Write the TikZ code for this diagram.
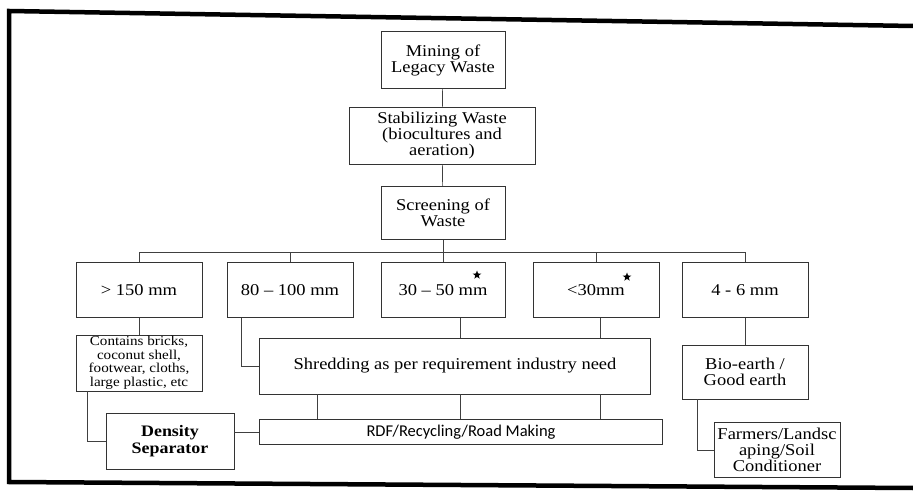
\documentclass[tikz,border=0pt]{standalone}
\usepackage{fontspec}
\setmainfont{Liberation Serif}[FakeStretch=1.12]
\newfontfamily\rdffont{Carlito}
\usetikzlibrary{shapes.geometric}

\begin{document}
\begin{tikzpicture}[x=1pt,y=-1pt,
  box/.style={draw=black!80, line width=0.8pt, align=center, inner sep=1pt,
    minimum width=126, minimum height=55, font=\fontsize{16.5}{16}\selectfont},
  small/.style={font=\fontsize{13.5}{13.5}\selectfont},
  link/.style={draw=black!75, line width=0.7pt},
  starmark/.style={star, star points=5, star point ratio=2.4, fill=black,
    inner sep=0, minimum size=9}]
\useasboundingbox (0,0) rectangle (913,494);
% frame
\draw[line width=4.5pt] (913,26) -- (9,11) -- (9,482) -- (913,488);

% top chain
\node[box, minimum width=124, minimum height=57] (mining) at (443,60) {Mining of\\Legacy Waste};
\node[box, minimum width=186, minimum height=57] (stab) at (442,136) {Stabilizing Waste\\(biocultures and\\aeration)};
\node[box, minimum width=124, minimum height=53] (screen) at (443,213) {Screening of\\Waste};
\coordinate (bus) at (0,252);

% sizes
\node[box] (s150) at (139,290) {> 150 mm};
\node[box] (s80) at (290,290) {80 -- 100 mm};
\node[box, minimum width=124] (s30) at (443,290) {30 -- 50 mm};
\node[box] (s0) at (596,290) {<30mm};
\node[box] (s46) at (745,290) {4 - 6 mm};
\node[starmark] (star1) at (477,275) {};
\node[starmark] (star2) at (627,277) {};

% lower boxes
\node[box, small, minimum height=56] (cont) at (139,363) {Contains bricks,\\coconut shell,\\footwear, cloths,\\large plastic, etc};
\node[box, minimum width=391, minimum height=56] (shred) at (455,366) {Shredding as per requirement industry need};
\node[box, minimum height=54] (bio) at (745,372) {Bio-earth /\\Good earth};
\node[box, minimum width=128, minimum height=56, font=\fontsize{16}{17}\selectfont\bfseries] (dens) at (170,441) {Density\\Separator};
\node[box, minimum width=403, minimum height=25, font=\fontsize{16.5}{16}\rdffont] (rdf) at (461,432) {RDF/Recycling/Road Making};
\node[box, minimum height=55] (farm) at (777,450) {Farmers/Landsc\\aping/Soil\\Conditioner};

% connectors
\draw[link] (mining) -- (stab);
\draw[link] (stab) -- (screen);
\draw[link] (screen.south) -- (screen.south |- bus);
\draw[link] (s150.north |- bus) -- (s46.north |- bus);
\foreach \n in {s150,s80,s30,s0,s46}
  \draw[link] (\n.north) -- (\n.north |- bus);
\draw[link] (s150) -- (cont);
\draw[link] (s46) -- (bio);
\draw[link] ([xshift=-49]s80.south) |- (shred.west);
\path ([xshift=17]s30.south) coordinate (d30);
\path ([xshift=4]s0.south) coordinate (d0);
\draw[link] (d30) -- (d30 |- shred.north);
\draw[link] (d0) -- (d0 |- shred.north);
\foreach \dx/\nm in {-138/r1,5/r2,145/r3} {
  \path ([xshift=\dx]shred.south) coordinate (\nm);
  \draw[link] (\nm) -- (\nm |- rdf.north);
}
\draw[link] ([xshift=-52]cont.south) |- (dens.west);
\draw[link] (dens.east |- rdf.west) -- (rdf.west);
\draw[link] ([xshift=-48]bio.south) |- (farm.west);
\end{tikzpicture}
\end{document}
